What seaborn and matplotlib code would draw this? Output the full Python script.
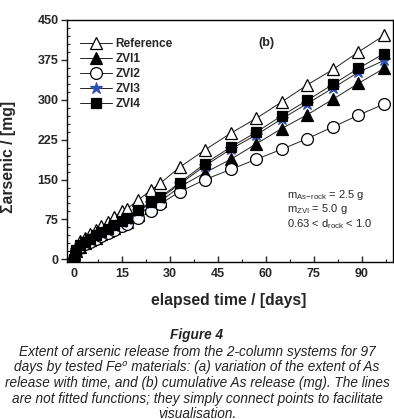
import matplotlib
matplotlib.use("Agg")
import matplotlib.pyplot as plt
import seaborn as sns
import numpy as np
from matplotlib.ticker import MultipleLocator

# ---- data ----
days = [0, 0.5, 2, 3.5, 5, 7, 8.5, 10.5, 12.5, 15, 16.5, 20, 24, 27, 33,
        41, 49, 57, 65, 73, 81, 89, 97]
reference = [0, 23, 34, 41, 48, 55, 62, 70, 80, 90, 95, 111, 130, 143, 173,
             206, 237, 265, 296, 328, 357, 390, 421]
zvi1 = [0, 16, 24, 30, 36, 41, 47, 53, 59, 66, 70, 84, 99, 109, 136,
        163, 188, 217, 246, 272, 301, 331, 359]
zvi2 = [0, 15, 23, 28, 33, 38, 43, 49, 55, 62, 66, 77, 90, 104, 127,
        150, 169, 188, 207, 227, 249, 271, 292]
zvi3 = [0, 17, 26, 32, 38, 44, 50, 56, 63, 71, 76, 90, 105, 115, 141,
        176, 207, 234, 264, 293, 322, 352, 374]
zvi4 = [0, 18, 27, 33, 39, 45, 51, 57, 64, 72, 77, 92, 108, 117, 144,
        180, 211, 239, 270, 299, 329, 359, 387]
series_names = ["Reference", "ZVI1", "ZVI2", "ZVI3", "ZVI4"]
x_ticks = [0, 15, 30, 45, 60, 75, 90]
y_ticks = [0, 75, 150, 225, 300, 375, 450]

sns.set_style("ticks")
plt.rcParams['font.family'] = ['Liberation Sans', 'DejaVu Sans']
plt.rcParams['mathtext.fontset'] = 'custom'
plt.rcParams['mathtext.rm'] = 'Liberation Sans'
plt.rcParams['mathtext.it'] = 'Liberation Sans:italic'

W, H = 394, 419
fig = plt.figure(figsize=(W / 100, H / 100), dpi=100)
ax = fig.add_axes([67 / W, 1 - 262 / H, 326 / W, 242 / H])

styles = {
    "Reference": dict(marker="^", markerfacecolor="white", markeredgecolor="black", markersize=9),
    "ZVI1": dict(marker="^", markerfacecolor="black", markeredgecolor="black", markersize=9),
    "ZVI2": dict(marker="o", markerfacecolor="white", markeredgecolor="black", markersize=8.5),
    "ZVI3": dict(marker="*", markerfacecolor="#2f4fb5", markeredgecolor="#2f4fb5", markersize=9),
    "ZVI4": dict(marker="s", markerfacecolor="black", markeredgecolor="black", markersize=7.5),
}
data = {"Reference": reference, "ZVI1": zvi1, "ZVI2": zvi2, "ZVI3": zvi3, "ZVI4": zvi4}

for i, name in enumerate(series_names):
    sns.lineplot(x=days, y=data[name], ax=ax, color="#222222", linewidth=0.7,
                 markeredgewidth=0.9, sort=False, estimator=None, label=name,
                 zorder=3 + i, **styles[name])

ax.set_xlim(-2.2, 99.8)
ax.set_ylim(-5, 450)
ax.set_xticks(x_ticks)
ax.set_yticks(y_ticks)
ax.xaxis.set_minor_locator(MultipleLocator(7.5))
ax.yaxis.set_minor_locator(MultipleLocator(15))
for s in ax.spines.values():
    s.set_linewidth(1.0)
    s.set_color("black")
ax.tick_params(axis='y', which='major', direction='out', length=4, width=1, pad=2, labelsize=9)
ax.tick_params(axis='y', which='minor', direction='in', length=2.5, width=0.8)
ax.tick_params(axis='x', which='major', direction='in', length=4, width=1, pad=4, labelsize=9)
ax.tick_params(axis='x', which='minor', direction='in', length=2.5, width=0.8)
for lab in ax.get_xticklabels() + ax.get_yticklabels():
    lab.set_fontweight('bold')
ax.set_xlabel("")
ax.set_ylabel("")

leg = ax.legend(loc='upper left', bbox_to_anchor=((80 - 67) / 326, 1 - (38 - 20) / 242),
                frameon=False, fontsize=8.5, labelspacing=0.25, handlelength=2.7,
                handletextpad=0.3, borderpad=0, borderaxespad=0)
for t in leg.get_texts():
    t.set_fontweight('bold')

ax.text(60.3, 407, "(b)", fontsize=9, fontweight='bold', ha='center', va='center')
ax.text(66.5, 121, r"m$_{\mathregular{As\!-\!rock}}$ = 2.5 g", fontsize=8, ha='left', va='center')
ax.text(66.5, 94, r"m$_{\mathregular{ZVI}}$ = 5.0 g", fontsize=8, ha='left', va='center')
ax.text(66.5, 67, r"0.63 < d$_{\mathregular{rock}}$ < 1.0", fontsize=8, ha='left', va='center')

fig.text(9 / W, 1 - 157 / H, "Σarsenic / [mg]", rotation=90, fontsize=11.3,
         fontweight='bold', ha='center', va='center')
fig.text(229 / W, 1 - 300 / H, "elapsed time / [days]", fontsize=11.3,
         fontweight='bold', ha='center', va='center')

fig.text(197 / W, 1 - 335 / H, "Figure 4", fontsize=9.8, fontweight='bold',
         style='italic', ha='center', va='center', color='#222222')
caption = [
    "Extent of arsenic release from the 2-column systems for 97",
    "days by tested Fe\u2070 materials: (a) variation of the extent of As",
    "release with time, and (b) cumulative As release (mg). The lines",
    "are not fitted functions; they simply connect points to facilitate",
    "visualisation.",
]
ys = [352, 367.5, 383, 398.5, 413.5]
for line, yy in zip(caption, ys):
    fig.text(197 / W, 1 - yy / H, line, fontsize=9.8, style='italic',
             ha='center', va='center', color='#222222')

fig.savefig("out.png", dpi=100)
